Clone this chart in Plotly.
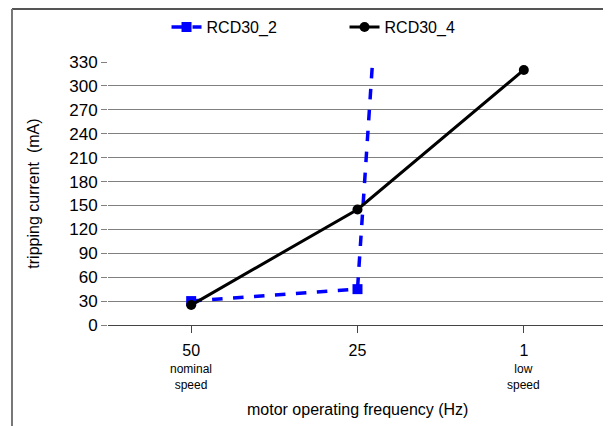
import plotly.graph_objects as go

# x positions: 0 -> 50 Hz, 1 -> 25 Hz, 2 -> 1 Hz
tick_pos = [0, 1, 2]
tick_main = ["50", "25", "1"]
tick_sub = ["nominal<br>speed", "", "low<br>speed"]

rcd2_x = [0, 1, 1.1]
rcd2_y = [30, 45, 360]

rcd4_x = [0, 1, 2]
rcd4_y = [25, 145, 320]

fig = go.Figure()
fig.add_trace(go.Scatter(x=rcd2_x, y=rcd2_y, mode='lines+markers', name='RCD30_2',
                         line=dict(color='#0000FF', width=3.5, dash='dash'),
                         marker=dict(symbol='square', size=10, color='#0000FF', opacity=1)))
fig.add_trace(go.Scatter(x=rcd4_x, y=rcd4_y, mode='lines+markers', name='RCD30_4',
                         line=dict(color='black', width=3),
                         marker=dict(symbol='circle', size=10, color='black')))

# sous-titres des ticks
for p, s in zip(tick_pos, tick_sub):
    if s:
        fig.add_annotation(x=p, xref='x', y=-0.132, yref='paper', yanchor='top',
                           text=s, showarrow=False, font=dict(size=12))

# titres des axes
fig.add_annotation(x=0.5, xref='paper', y=-0.323, yref='paper', yanchor='middle',
                   text='motor operating frequency (Hz)', showarrow=False, font=dict(size=16))
fig.add_annotation(x=-0.150, xref='paper', y=0.5, yref='paper', xanchor='center',
                   text='tripping current  (mA)', textangle=-90, showarrow=False, font=dict(size=16))

# cadre gris haut / gauche
fig.add_shape(type='line', xref='paper', yref='paper', x0=-0.1924, x1=1.05, y0=1.2015, y1=1.2015,
              line=dict(color='#555555', width=2))
fig.add_shape(type='line', xref='paper', yref='paper', x0=-0.1924, x1=-0.1924, y0=1.2015, y1=-0.45,
              line=dict(color='#777777', width=2))

fig.update_layout(
    width=611, height=426,
    margin=dict(l=100, r=12, t=54, b=109, autoexpand=False),
    plot_bgcolor='white', paper_bgcolor='white',
    font=dict(family='Liberation Sans, Arial', size=16, color='black'),
    showlegend=True,
    legend=dict(orientation='h', x=0.474, xanchor='center', y=1.133, yanchor='middle',
                font=dict(size=16), entrywidth=133, entrywidthmode='pixels'),
    xaxis=dict(range=[-0.5, 2.5], tickvals=tick_pos, ticktext=tick_main, automargin=False,
               showgrid=False, zeroline=False, showline=True, linecolor='#444444', linewidth=1,
               ticks='outside', ticklen=7, tickcolor='#444444', ticklabelstandoff=4),
    yaxis=dict(range=[0, 330], tickvals=list(range(0, 331, 30)), automargin=False,
               showgrid=True, gridcolor='#808080', gridwidth=1, zeroline=False,
               ticks='outside', ticklen=6, tickcolor='#808080', tickfont=dict(size=17)),
)

fig.write_html("out.html")
